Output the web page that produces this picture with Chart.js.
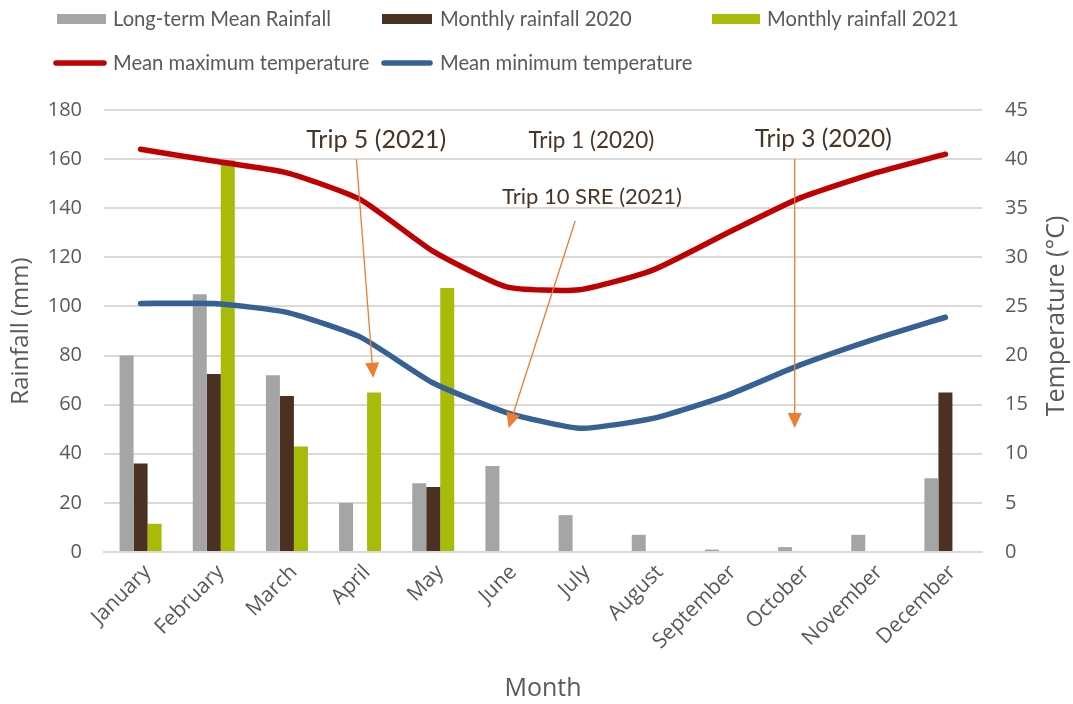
<!DOCTYPE html>
<html><head><meta charset="utf-8">
<script src="https://cdn.jsdelivr.net/npm/chart.js@4"></script>
<style>html,body{margin:0;padding:0;background:#fff;}#wrap{width:1073px;height:704px;position:relative}</style>
</head><body><div id="wrap"><canvas id="c" width="1073" height="704"></canvas></div>
<script>
const months = ['January','February','March','April','May','June','July','August','September','October','November','December'];
const longTermMean = [80, 105, 72, 20, 28, 35, 15, 7, 1, 2, 7, 30];
const rain2020 = [36, 72.5, 63.5, 0, 26.5, 0, 0, 0, 0, 0, 0, 65];
const rain2021 = [11.5, 159.5, 43, 65, 107.5, null, null, null, null, null, null, null];
const maxTemp = [41.0, 39.8, 38.6, 35.9, 30.6, 27.0, 26.7, 28.7, 32.4, 36.0, 38.5, 40.5];
const minTemp = [25.3, 25.3, 24.4, 21.9, 17.2, 14.2, 12.6, 13.6, 15.9, 19.0, 21.6, 23.9];
const rainAxis = {min: 0, max: 180, step: 20};
const tempAxis = {min: 0, max: 45, step: 5};
const seriesNames = ['Long-term Mean Rainfall','Monthly rainfall 2020','Monthly rainfall 2021','Mean maximum temperature','Mean minimum temperature'];
// annotations anchored in data space: x = category index, y = rainfall value
const tripLabels = ['Trip 5 (2021)','Trip 1 (2020)','Trip 10 SRE (2021)','Trip 3 (2020)'];
const tripTextAt = [[3.22,168],[6.16,167.4],[6.17,144.6],[9.33,168]];
const tripArrowFrom = [[2.95,160],null,[5.94,134.8],[8.94,160]];
const tripArrowTo = [[3.18,71],null,[5.03,50.5],[8.94,50.5]];

const FONT = "'Open Sans', sans-serif";
const LFONT = "Lato, 'Open Sans', sans-serif";
const TXT = '#595959';
const colors = ['#A5A5A5','#4B3121','#A8BB08','#C00000','#366195'];

const legendPlugin = {
  id: 'customLegend',
  afterDraw(chart) {
    const ctx = chart.ctx;
    // [dataset index, symbol left, symbol right, text left, row centre]
    const slots = [[0,57,106,113,19],[1,382,432,440,19],[2,712,760,767,19],[3,53,107,113,63],[4,381,433,440,63]];
    ctx.save();
    ctx.font = "20.2px " + LFONT;
    ctx.textBaseline = 'middle';
    slots.forEach(([i,x0,x1,tx,y]) => {
      const ds = chart.data.datasets[i];
      if (ds.type === 'line') {
        ctx.strokeStyle = ds.borderColor; ctx.lineWidth = 5.5; ctx.lineCap = 'round';
        ctx.beginPath(); ctx.moveTo(x0+3,y); ctx.lineTo(x1-3,y); ctx.stroke();
      } else {
        ctx.fillStyle = ds.backgroundColor; ctx.fillRect(x0,y-5,x1-x0,10);
      }
      ctx.fillStyle = TXT;
      ctx.fillText(ds.label, tx, y);
    });
    ctx.restore();
  }
};

const annotPlugin = {
  id: 'trips',
  afterDatasetsDraw(chart) {
    const ctx = chart.ctx, xs = chart.scales.x, ys = chart.scales.y;
    const px = p => [xs.getPixelForValue(p[0]), ys.getPixelForValue(p[1])];
    const sizes = [25, 22.5, 22, 24.5];
    ctx.save();
    tripLabels.forEach((t, i) => {
      ctx.font = sizes[i] + 'px ' + LFONT;
      ctx.fillStyle = '#4A3424';
      ctx.textAlign = 'center'; ctx.textBaseline = 'middle';
      const [tx, ty] = px(tripTextAt[i]);
      ctx.fillText(t, tx, ty);
      if (tripArrowFrom[i]) {
        const [x1,y1] = px(tripArrowFrom[i]);
        const [x2,y2] = px(tripArrowTo[i]);
        const ang = Math.atan2(y2-y1, x2-x1);
        const L = 15, W = 7;
        const bx = x2 - L*Math.cos(ang), by = y2 - L*Math.sin(ang);
        ctx.strokeStyle = '#ED7D31'; ctx.lineWidth = 1.3;
        ctx.beginPath(); ctx.moveTo(x1,y1); ctx.lineTo(bx,by); ctx.stroke();
        ctx.fillStyle = '#ED7D31';
        ctx.beginPath();
        ctx.moveTo(x2,y2);
        ctx.lineTo(bx + W*Math.sin(ang), by - W*Math.cos(ang));
        ctx.lineTo(bx - W*Math.sin(ang), by + W*Math.cos(ang));
        ctx.closePath(); ctx.fill();
      }
    });
    ctx.restore();
  }
};

const rightTitlePlugin = {
  id: 'rightTitle',
  afterDraw(chart) {
    const ctx = chart.ctx;
    ctx.save();
    ctx.font = "25px " + FONT; ctx.fillStyle = TXT;
    ctx.textAlign = 'center'; ctx.textBaseline = 'middle';
    ctx.translate(1057, 316);
    ctx.rotate(-Math.PI/2);
    ctx.fillText('Temperature (°C)', 0, 0);
    ctx.restore();
  }
};

new Chart(document.getElementById('c'), {
  data: {
    labels: months,
    datasets: [
      {type:'bar', label: seriesNames[0], data: longTermMean, backgroundColor: colors[0], yAxisID:'y', order: 2},
      {type:'bar', label: seriesNames[1], data: rain2020, backgroundColor: colors[1], yAxisID:'y', order: 2},
      {type:'bar', label: seriesNames[2], data: rain2021, backgroundColor: colors[2], yAxisID:'y', order: 2},
      {type:'line', label: seriesNames[3], data: maxTemp, borderColor: colors[3], backgroundColor: colors[3], borderWidth: 5.5, pointRadius: 0, tension: 0.18, yAxisID:'y2', order: 1, borderCapStyle:'round', borderJoinStyle:'round'},
      {type:'line', label: seriesNames[4], data: minTemp, borderColor: colors[4], backgroundColor: colors[4], borderWidth: 5.5, pointRadius: 0, tension: 0.18, yAxisID:'y2', order: 1, borderCapStyle:'round', borderJoinStyle:'round'}
    ]
  },
  options: {
    responsive: false,
    animation: false,
    layout: {padding: {top: 110, left: 0, right: 0, bottom: 0}},
    datasets: {bar: {categoryPercentage: 0.574, barPercentage: 1.0}},
    plugins: {legend: {display: false}, tooltip: {enabled: false}},
    scales: {
      x: {
        type: 'category',
        grid: {display: false, drawTicks: false},
        border: {color: '#D9D9D9', width: 2},
        ticks: {color: TXT, font: {family: FONT, size: 21}, minRotation: 45, maxRotation: 45, padding: 8, labelOffset: 7},
        title: {display: true, text: 'Month', color: TXT, font: {family: FONT, size: 25}, padding: {top: 4, bottom: 0}},
        afterFit(s) { s.height = 152; }
      },
      y: {
        position: 'left', min: rainAxis.min, max: rainAxis.max,
        ticks: {stepSize: rainAxis.step, color: TXT, font: {family: FONT, size: 20}, padding: 22},
        grid: {color: '#D9D9D9', lineWidth: 2, drawTicks: false},
        border: {display: false},
        title: {display: true, text: 'Rainfall (mm)', color: TXT, font: {family: FONT, size: 24}, padding: {top: 7, bottom: 4}},
        afterFit(s) { s.width = 104; }
      },
      y2: {
        position: 'right', min: tempAxis.min, max: tempAxis.max,
        ticks: {stepSize: tempAxis.step, color: TXT, font: {family: FONT, size: 20}, padding: 23},
        grid: {display: false, drawTicks: false},
        border: {display: false},
        afterFit(s) { s.width = 91; }
      }
    }
  },
  plugins: [annotPlugin, legendPlugin, rightTitlePlugin]
});
</script>
</body></html>
